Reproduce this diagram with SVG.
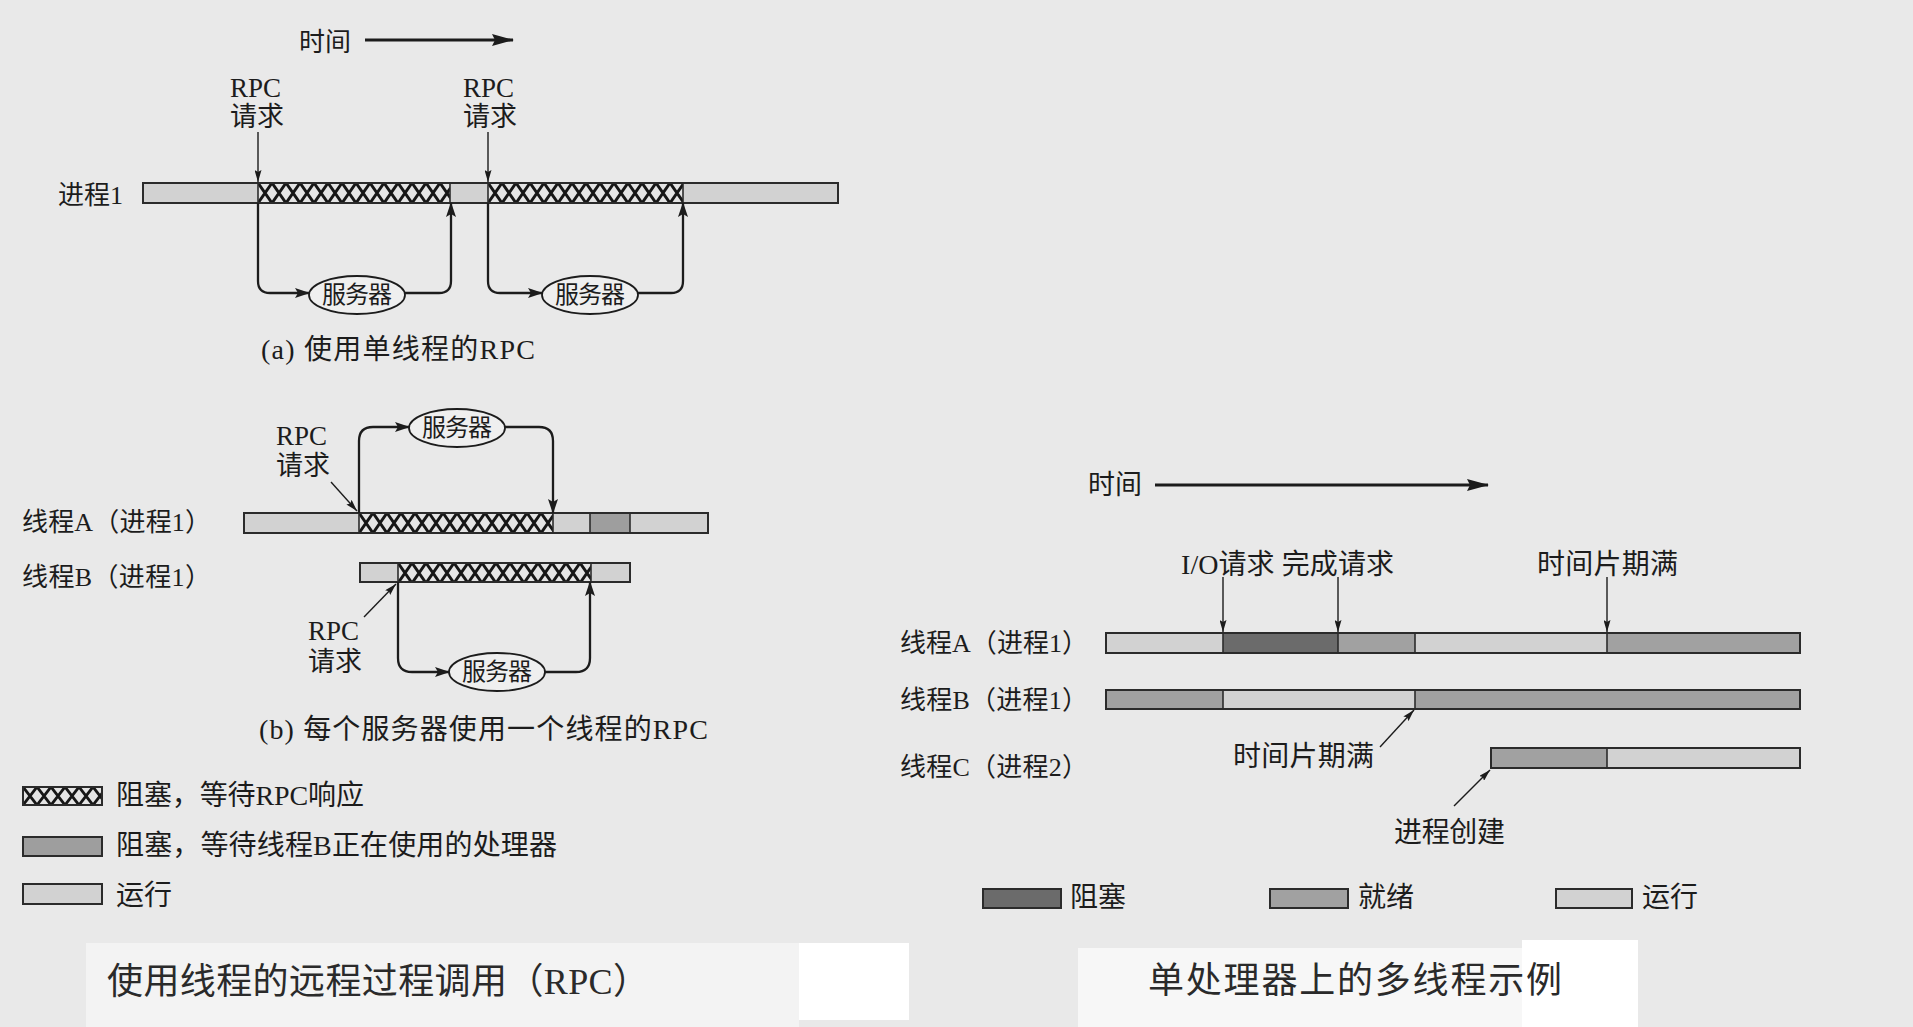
<svg xmlns="http://www.w3.org/2000/svg" width="1913" height="1027" viewBox="0 0 1913 1027">
  <defs>
    <style>
      .t { font-family: "Liberation Serif", "Noto Sans CJK SC", serif; fill: #1c1c1c; }
      .s26 { font-size: 26px; }
      .s27 { font-size: 27px; }
      .s28 { font-size: 28px; }
      .srv { font-size: 24px; text-anchor: middle; }
      .cap { font-family: "Noto Sans CJK SC", "Liberation Sans", sans-serif; font-size: 36px; fill: #2a2a2a; }
      .capL { font-family: "Liberation Serif", "Noto Sans CJK SC", serif; font-size: 36px; fill: #2a2a2a; }
      .bar { stroke: #2b2b2b; stroke-width: 2; }
      .run { fill: #d2d2d2; }
      .ready { fill: #a1a1a1; }
      .blk { fill: #6b6b6b; }
      .wait { fill: #9e9e9e; }
      .hatch { fill: url(#hatch); }
      .flow { fill: none; stroke: #1c1c1c; stroke-width: 2.3; marker-end: url(#head); }
      .ptr { fill: none; stroke: #1c1c1c; stroke-width: 1.4; marker-end: url(#thin); }
      .time { fill: none; stroke: #1c1c1c; stroke-width: 2.8; marker-end: url(#timehead); }
      .srvshape { fill: #efefef; stroke: #1c1c1c; stroke-width: 1.8; }
      .sep { stroke: #2b2b2b; stroke-width: 1.6; }
    </style>
    <!-- cross-hatch for "blocked, waiting for RPC reply" -->
    <pattern id="hatch" patternUnits="userSpaceOnUse" width="14" height="20">
      <rect width="14" height="20" fill="#e4e4e4"/>
      <path d="M0,0 L14,20 M14,0 L0,20" stroke="#161616" stroke-width="3"/>
    </pattern>
    <marker id="head" markerUnits="userSpaceOnUse" markerWidth="15" markerHeight="10" refX="14" refY="5" orient="auto">
      <path d="M0,0 L15,5 L0,10 L3,5 z" fill="#1c1c1c"/>
    </marker>
    <marker id="thin" markerUnits="userSpaceOnUse" markerWidth="12" markerHeight="7" refX="12" refY="3.5" orient="auto">
      <path d="M0,0 L12,3.5 L0,7 L2,3.5 z" fill="#1c1c1c"/>
    </marker>
    <marker id="timehead" markerUnits="userSpaceOnUse" markerWidth="22" markerHeight="12" refX="21" refY="6" orient="auto">
      <path d="M0,0 L22,6 L0,12 L3,6 z" fill="#1c1c1c"/>
    </marker>
  </defs>

  <!-- page background and caption panels -->
  <rect width="1913" height="1027" fill="#e9e9e9"/>
  <rect x="86" y="943" width="713" height="84" fill="#f3f3f3"/>
  <rect x="799" y="943" width="110" height="77" fill="#ffffff"/>
  <rect x="1078" y="948" width="500" height="79" fill="#f7f7f7"/>
  <rect x="1522" y="940" width="116" height="87" fill="#ffffff"/>

  <!-- (a) single-threaded RPC -->
  <g id="a-time">
    <text class="t s26" x="299" y="51">时间</text>
  </g>
  <g id="a-rpc1"><text class="t s27" x="230" y="97">RPC</text><text class="t s27" x="230" y="126">请求</text></g>
  <g id="a-rpc2"><text class="t s27" x="463" y="97">RPC</text><text class="t s27" x="463" y="126">请求</text></g>
  <g id="a-process1">
    <text class="t s26" x="58" y="204">进程1</text>
    <rect class="bar run" x="143" y="183" width="695" height="20"/>
    <rect class="hatch" transform="translate(258,183)" width="192" height="20"/>
    <rect class="hatch" transform="translate(488,183)" width="195" height="20"/>
    <rect x="143" y="183" width="695" height="20" fill="none" class="bar"/>
    <line class="sep" x1="258" y1="183" x2="258" y2="203"/>
    <line class="sep" x1="450" y1="183" x2="450" y2="203"/>
    <line class="sep" x1="488" y1="183" x2="488" y2="203"/>
    <line class="sep" x1="683" y1="183" x2="683" y2="203"/>
  </g>
  <g id="a-server1">
    <ellipse class="srvshape" cx="357" cy="295" rx="48" ry="19"/>
    <text class="t srv" x="357" y="303" textLength="70">服务器</text>
  </g>
  <g id="a-server2">
    <ellipse class="srvshape" cx="590" cy="295" rx="48" ry="19"/>
    <text class="t srv" x="590" y="303" textLength="70">服务器</text>
  </g>
  <g id="a-caption"><text class="t s28" x="261" y="359" textLength="274">(a) 使用单线程的RPC</text></g>

  <!-- (b) one thread per server -->
  <g id="b-rpcA"><text class="t s27" x="276" y="445">RPC</text><text class="t s27" x="276" y="475">请求</text></g>
  <g id="b-threadA">
    <text class="t s26" x="22" y="531" textLength="189">线程A（进程1）</text>
    <rect class="bar run" x="244" y="513" width="464" height="20"/>
    <rect class="hatch" transform="translate(359,513)" width="194" height="20"/>
    <rect class="wait" x="590" y="513" width="40" height="20"/>
    <rect x="244" y="513" width="464" height="20" fill="none" class="bar"/>
    <line class="sep" x1="359" y1="513" x2="359" y2="533"/>
    <line class="sep" x1="553" y1="513" x2="553" y2="533"/>
    <line class="sep" x1="590" y1="513" x2="590" y2="533"/>
    <line class="sep" x1="630" y1="513" x2="630" y2="533"/>
  </g>
  <g id="b-threadB">
    <text class="t s26" x="22" y="586" textLength="189">线程B（进程1）</text>
    <rect class="bar run" x="360" y="563" width="270" height="19"/>
    <rect class="hatch" transform="translate(398,563)" width="193" height="19"/>
    <rect x="360" y="563" width="270" height="19" fill="none" class="bar"/>
    <line class="sep" x1="398" y1="563" x2="398" y2="582"/>
    <line class="sep" x1="591" y1="563" x2="591" y2="582"/>
  </g>
  <g id="b-server1">
    <ellipse class="srvshape" cx="457" cy="428" rx="48" ry="19"/>
    <text class="t srv" x="457" y="436" textLength="70">服务器</text>
  </g>
  <g id="b-rpcB"><text class="t s27" x="308" y="640">RPC</text><text class="t s27" x="308" y="671">请求</text></g>
  <g id="b-server2">
    <ellipse class="srvshape" cx="497" cy="672" rx="48" ry="19"/>
    <text class="t srv" x="497" y="680" textLength="70">服务器</text>
  </g>
  <g id="b-caption"><text class="t s28" x="259" y="739" textLength="449">(b) 每个服务器使用一个线程的RPC</text></g>

  <!-- legend for (a)/(b) -->
  <g id="legend-left">
    <rect class="hatch" transform="translate(23,787) scale(1,0.9)" width="79" height="20"/>
    <rect class="bar" x="23" y="787" width="79" height="18" fill="none"/>
    <text class="t s28" x="116" y="805" textLength="248">阻塞，等待RPC响应</text>
    <rect class="bar wait" x="23" y="837" width="79" height="19"/>
    <text class="t s28" x="116" y="855" textLength="441">阻塞，等待线程B正在使用的处理器</text>
    <rect class="bar run" x="23" y="884" width="79" height="20"/>
    <text class="t s28" x="116" y="905">运行</text>
  </g>
  <g id="caption-left"><text class="capL" x="107" y="994" textLength="542">使用线程的远程过程调用（RPC）</text></g>

  <!-- multithreading on a uniprocessor -->
  <g id="u-time"><text class="t s27" x="1088" y="494">时间</text></g>
  <g id="u-labels">
    <text class="t s28" x="1181" y="574" textLength="213">I/O请求 完成请求</text>
    <text class="t s28" x="1537" y="574" textLength="141">时间片期满</text>
  </g>
  <g id="u-threadA">
    <text class="t s26" x="900" y="652" textLength="188">线程A（进程1）</text>
    <rect class="run" x="1106" y="633" width="117" height="20"/>
    <rect class="blk" x="1223" y="633" width="115" height="20"/>
    <rect class="ready" x="1338" y="633" width="77" height="20"/>
    <rect class="run" x="1415" y="633" width="192" height="20"/>
    <rect class="ready" x="1607" y="633" width="193" height="20"/>
    <rect class="bar" x="1106" y="633" width="694" height="20" fill="none"/>
    <line class="sep" x1="1223" y1="633" x2="1223" y2="653"/>
    <line class="sep" x1="1338" y1="633" x2="1338" y2="653"/>
    <line class="sep" x1="1415" y1="633" x2="1415" y2="653"/>
    <line class="sep" x1="1607" y1="633" x2="1607" y2="653"/>
  </g>
  <g id="u-threadB">
    <text class="t s26" x="900" y="709" textLength="188">线程B（进程1）</text>
    <rect class="ready" x="1106" y="690" width="117" height="19"/>
    <rect class="run" x="1223" y="690" width="192" height="19"/>
    <rect class="ready" x="1415" y="690" width="385" height="19"/>
    <rect class="bar" x="1106" y="690" width="694" height="19" fill="none"/>
    <line class="sep" x1="1223" y1="690" x2="1223" y2="709"/>
    <line class="sep" x1="1415" y1="690" x2="1415" y2="709"/>
  </g>
  <g id="u-expire"><text class="t s28" x="1233" y="766" textLength="141">时间片期满</text></g>
  <g id="u-threadC">
    <text class="t s26" x="900" y="776" textLength="188">线程C（进程2）</text>
    <rect class="ready" x="1491" y="748" width="116" height="20"/>
    <rect class="run" x="1607" y="748" width="193" height="20"/>
    <rect class="bar" x="1491" y="748" width="309" height="20" fill="none"/>
    <line class="sep" x1="1607" y1="748" x2="1607" y2="768"/>
  </g>
  <g id="u-create"><text class="t s28" x="1394" y="842" textLength="111">进程创建</text></g>

  <!-- legend for the uniprocessor example -->
  <g id="legend-right">
    <rect class="bar blk" x="983" y="889" width="78" height="19"/>
    <text class="t s28" x="1070" y="907">阻塞</text>
    <rect class="bar ready" x="1270" y="889" width="78" height="19"/>
    <text class="t s28" x="1358" y="907">就绪</text>
    <rect class="bar run" x="1556" y="889" width="76" height="19"/>
    <text class="t s28" x="1642" y="907">运行</text>
  </g>
  <g id="caption-right"><text class="cap" x="1148" y="993" textLength="414">单处理器上的多线程示例</text></g>

  <!-- connectors -->
  <g id="connectors">
    <path class="time" d="M365,40 H513"/>
    <path class="ptr" d="M258,132 V182"/>
    <path class="ptr" d="M488,132 V182"/>
    <path class="flow" d="M258,203 V281 Q258,293 270,293 H309"/>
    <path class="flow" d="M405,293 H439 Q451,293 451,281 V203"/>
    <path class="flow" d="M488,203 V281 Q488,293 500,293 H542"/>
    <path class="flow" d="M638,293 H671 Q683,293 683,281 V203"/>

    <path class="ptr" d="M331,482 L357,511"/>
    <path class="flow" d="M359,513 V441 Q359,427 373,427 H409"/>
    <path class="flow" d="M505,427 H539 Q553,427 553,441 V513"/>
    <path class="ptr" d="M364,617 L396,584"/>
    <path class="flow" d="M398,582 V658 Q398,672 412,672 H449"/>
    <path class="flow" d="M545,672 H576 Q590,672 590,658 V582"/>

    <path class="time" d="M1155,485 H1488"/>
    <path class="ptr" d="M1223,577 V632"/>
    <path class="ptr" d="M1338,577 V632"/>
    <path class="ptr" d="M1607,577 V632"/>
    <path class="ptr" d="M1380,747 L1414,710"/>
    <path class="ptr" d="M1454,806 L1490,770"/>
  </g>
</svg>
